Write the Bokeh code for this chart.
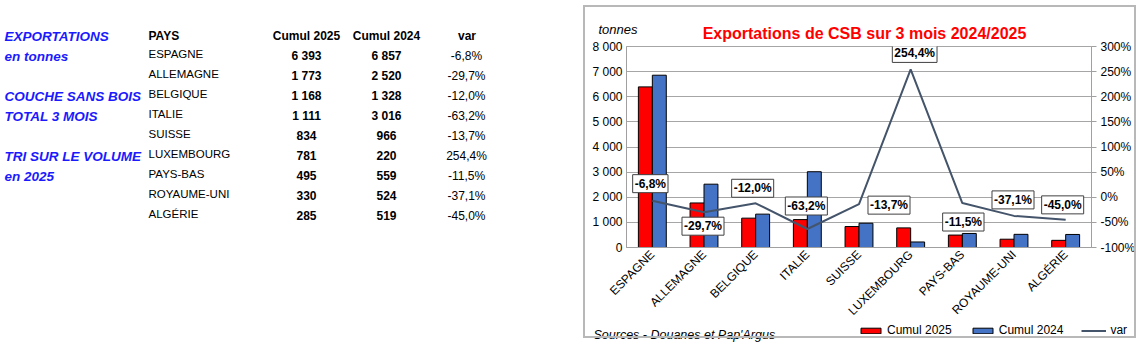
import math
from bokeh.plotting import figure
from bokeh.models import (Range1d, FactorRange, LinearAxis, FixedTicker, PrintfTickFormatter,
                          Label, Legend, LegendItem, ColumnDataSource)
from bokeh.transform import dodge
from bokeh.embed import file_html
from bokeh.resources import INLINE
from bokeh.core.properties import value

# ---------------- data ----------------
countries = ["ESPAGNE", "ALLEMAGNE", "BELGIQUE", "ITALIE", "SUISSE",
             "LUXEMBOURG", "PAYS-BAS", "ROYAUME-UNI", "ALGÉRIE"]
cumul_2025 = [6393, 1773, 1168, 1111, 834, 781, 495, 330, 285]
cumul_2024 = [6857, 2520, 1328, 3016, 966, 220, 559, 524, 519]
var_pct = [-6.8, -29.7, -12.0, -63.2, -13.7, 254.4, -11.5, -37.1, -45.0]
left_ticks = [0, 1000, 2000, 3000, 4000, 5000, 6000, 7000, 8000]
right_ticks = [-100, -50, 0, 50, 100, 150, 200, 250, 300]
side_notes = ["EXPORTATIONS", "en tonnes", "COUCHE SANS BOIS", "TOTAL 3 MOIS",
              "TRI SUR LE VOLUME", "en 2025"]
headers = ["PAYS", "Cumul 2025", "Cumul 2024", "var"]
chart_title = "Exportations de CSB sur 3 mois 2024/2025"
unit_text = "tonnes"
source_text = "Sources - Douanes  et Pap'Argus"
series_names = ["Cumul 2025", "Cumul 2024", "var"]

FONT = "Liberation Sans"
RED, BLUE, SLATE = "#FF0000", "#4472C4", "#44546A"
W, H = 1145, 358
NAN = float("nan")


def fmt_int(v):
    return f"{v:,}".replace(",", " ")


def fmt_pct(v):
    return f"{v:.1f}%".replace(".", ",")


# ---------------- background page figure (table, titles, legend) ----------------
bg = figure(width=W, height=H, x_range=Range1d(0, W), y_range=Range1d(H, 0),
            toolbar_location=None, output_backend="svg", x_axis_type=None, y_axis_type=None,
            min_border=0, outline_line_color=None)
bg.grid.visible = False

note_y = [36, 56, 96, 116, 156, 176]
bg.text(x=[4] * len(side_notes), y=note_y, text=side_notes, text_font=value(FONT),
        text_font_size="13.5px", text_font_style="bold italic", text_color="#1a1aff",
        text_align="left", text_baseline="alphabetic")

hdr_x = [148, 306, 386, 466.5]
hdr_align = ["left", "center", "center", "center"]
bg.text(x=hdr_x, y=[35] * 4, text=headers, text_font=value(FONT), text_font_size="12px",
        text_font_style="bold", text_color="#000000", text_align=hdr_align,
        text_baseline="alphabetic")

n = len(countries)
name_y = [53.3 + 20 * i for i in range(n)]
num_y = [55 + 20 * i for i in range(n)]
bg.text(x=[148] * n, y=name_y, text=countries, text_font=value(FONT), text_font_size="11.5px",
        text_color="#000000", text_align="left", text_baseline="alphabetic")
bg.text(x=[306] * n, y=num_y, text=[fmt_int(v) for v in cumul_2025], text_font=value(FONT),
        text_font_size="12px", text_font_style="bold", text_color="#000000",
        text_align="center", text_baseline="alphabetic")
bg.text(x=[386] * n, y=num_y, text=[fmt_int(v) for v in cumul_2024], text_font=value(FONT),
        text_font_size="12px", text_font_style="bold", text_color="#000000",
        text_align="center", text_baseline="alphabetic")
bg.text(x=[466] * n, y=num_y, text=[fmt_pct(v) for v in var_pct], text_font=value(FONT),
        text_font_size="12px", text_color="#000000", text_align="center",
        text_baseline="alphabetic")

# chart texts around the plot area
bg.text(x=[864], y=[33], text=[chart_title], text_font=value(FONT), text_font_size="16px",
        text_font_style="bold", text_color=RED, text_align="center", text_baseline="alphabetic")
bg.text(x=[598], y=[29], text=[unit_text], text_font=value(FONT), text_font_size="13px",
        text_font_style="italic", text_color="#000000", text_align="left",
        text_baseline="alphabetic")
bg.text(x=[593], y=[334], text=[source_text], text_font=value(FONT), text_font_size="12.5px",
        text_font_style="italic", text_color="#000000", text_align="left",
        text_baseline="alphabetic")

# legend proxies (NaN data, nothing drawn) + legend
lg25 = bg.vbar(x=[NAN], top=[NAN], width=1, fill_color=RED, line_color="#000000", line_width=1)
lg24 = bg.vbar(x=[NAN], top=[NAN], width=1, fill_color=BLUE, line_color="#000000", line_width=1)
lgv = bg.line(x=[NAN], y=[NAN], line_color=SLATE, line_width=2)
legend = Legend(items=[LegendItem(label=series_names[0], renderers=[lg25]),
                       LegendItem(label=series_names[1], renderers=[lg24]),
                       LegendItem(label=series_names[2], renderers=[lgv])],
                location=(858, H - 337), orientation="horizontal", glyph_width=25,
                glyph_height=7, label_height=14, label_standoff=4, spacing=18, padding=0,
                margin=0, border_line_color=None, background_fill_alpha=0,
                label_text_font=FONT, label_text_font_size="12px", label_text_color="#000000")
bg.add_layout(legend, "center")

# ---------------- chart ----------------
p = figure(width=553, height=333, x_range=FactorRange(*countries, range_padding=0),
           y_range=Range1d(0, 8000), toolbar_location=None, output_backend="svg",
           min_border_left=41, min_border_right=45, min_border_top=39, min_border_bottom=93)
p.styles = {"position": "absolute", "left": "583px", "top": "5px",
            "border": "2px solid #b8b8b8"}
p.extra_y_ranges = {"pct": Range1d(-100, 300)}
p.background_fill_alpha = 0
p.border_fill_alpha = 0
p.outline_line_color = "#a6a6a6"
p.xgrid.visible = False
p.ygrid.grid_line_color = "#a6a6a6"
p.ygrid.ticker = FixedTicker(ticks=left_ticks)

ly = p.left[0]
ly.ticker = FixedTicker(ticks=left_ticks)
ly.major_label_overrides = {t: fmt_int(t) for t in left_ticks}
ly.axis_line_color = "#a0a0a0"
ly.major_tick_out = 0
ly.major_tick_in = 0
ly.minor_tick_out = 0
ly.minor_tick_in = 0
ly.major_label_standoff = 4
ly.major_label_text_font = FONT
ly.major_label_text_font_size = "12px"
ly.major_label_text_color = "#000000"

ry = LinearAxis(y_range_name="pct", ticker=FixedTicker(ticks=right_ticks),
                formatter=PrintfTickFormatter(format="%d%%"))
ry.axis_line_color = "#a0a0a0"
ry.major_tick_out = 5
ry.major_tick_in = 0
ry.major_tick_line_color = "#a0a0a0"
ry.minor_tick_out = 0
ry.minor_tick_in = 0
ry.major_label_standoff = 4
ry.major_label_text_font = FONT
ry.major_label_text_font_size = "12px"
ry.major_label_text_color = "#000000"
p.add_layout(ry, "right")

bx = p.below[0]
bx.axis_line_color = "#a0a0a0"
bx.major_tick_out = 0
bx.major_tick_in = 0
bx.major_label_orientation = math.pi / 4
bx.major_label_standoff = 5
bx.major_label_text_font = FONT
bx.major_label_text_font_size = "12px"
bx.major_label_text_color = "#000000"

src = ColumnDataSource(dict(country=countries, c25=cumul_2025, c24=cumul_2024, var=var_pct))
p.vbar(x=dodge("country", -0.135, range=p.x_range), top="c25", width=0.27, source=src,
       fill_color=RED, line_color="#000000", line_width=1)
p.vbar(x=dodge("country", 0.135, range=p.x_range), top="c24", width=0.27, source=src,
       fill_color=BLUE, line_color="#000000", line_width=1)
p.line(x="country", y="var", y_range_name="pct", source=src, line_color=SLATE, line_width=2)

# data labels for the var line (pixel offsets); x in synthetic categorical coordinates
lab_dx = [-2, -1, -3, -1, 30, 4, 1, -1, -3]
lab_dy = [17, -14, 15, 23, -1, 16, -19, 16, 15]
for i, (v, dx, dy) in enumerate(zip(var_pct, lab_dx, lab_dy)):
    p.add_layout(Label(x=i + 0.5, y=v, y_range_name="pct", x_offset=dx, y_offset=dy,
                       text=fmt_pct(v), text_align="center", text_baseline="middle",
                       text_font=FONT, text_font_size="12px", text_font_style="bold",
                       text_color="#000000", background_fill_color="white",
                       border_line_color="#404040", border_line_width=1, padding=2))

open("out.html", "w").write(file_html([bg, p], INLINE))
